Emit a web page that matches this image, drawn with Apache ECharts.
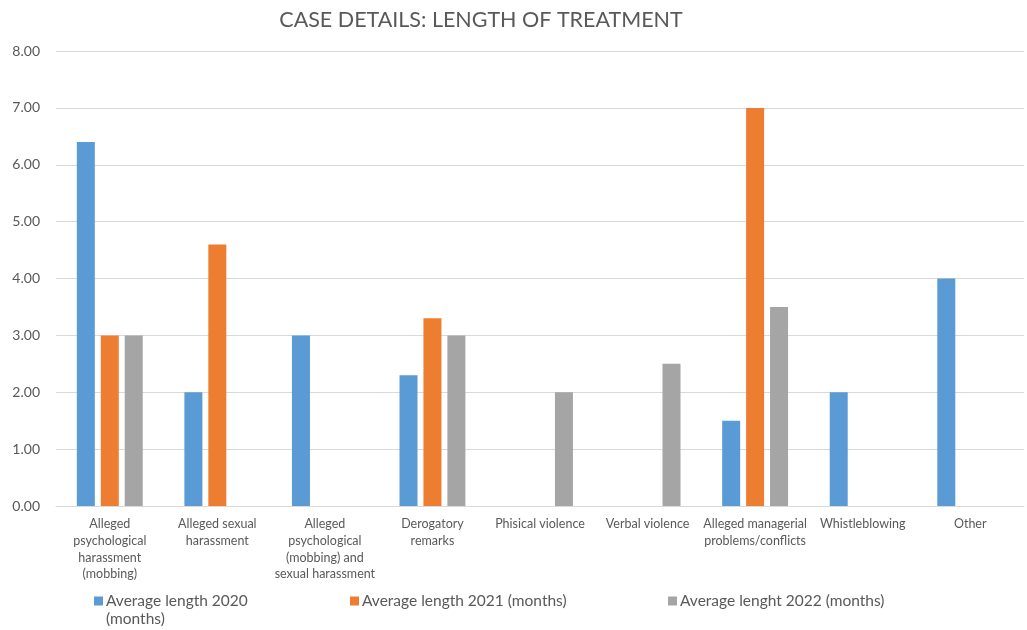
<!DOCTYPE html>
<html>
<head>
<meta charset="utf-8">
<script src="https://cdn.jsdelivr.net/npm/echarts@6/dist/echarts.min.js"></script>
<style>
  html, body { margin: 0; padding: 0; background: #fff; }
  #chart { width: 1027px; height: 630px; }
</style>
</head>
<body>
<div id="chart"></div>
<script>
// categories and tick labels (line breaks as in the original)
var categories = [
  'Alleged psychological harassment (mobbing)',
  'Alleged sexual harassment',
  'Alleged psychological (mobbing) and sexual harassment',
  'Derogatory remarks',
  'Phisical violence',
  'Verbal violence',
  'Alleged managerial problems/conflicts',
  'Whistleblowing',
  'Other'
];
var tickLabels = [
  'Alleged\npsychological\nharassment\n(mobbing)',
  'Alleged sexual\nharassment',
  'Alleged\npsychological\n(mobbing) and\nsexual harassment',
  'Derogatory\nremarks',
  'Phisical violence',
  'Verbal violence',
  'Alleged managerial\nproblems/conflicts',
  'Whistleblowing',
  'Other'
];

// series values (months)
var avg2020 = [6.4, 2, 3, 2.3, 0, 0, 1.5, 2, 4];
var avg2021 = [3, 4.6, 0, 3.3, 0, 0, 7, 0, 0];
var avg2022 = [3, 0, 0, 3, 2, 2.5, 3.5, 0, 0];

var seriesNames = [
  'Average length 2020 (months)',
  'Average length 2021 (months)',
  'Average lenght 2022 (months)'
];
var colors = ['#5B9BD5', '#ED7D31', '#A5A5A5'];

var FONT = 'Lato';
var TXT = '#595959';

var chart = echarts.init(document.getElementById('chart'));

function legendAt(name, left, label) {
  return {
    data: [name],
    left: left,
    top: 593,
    padding: 0,
    icon: 'rect',
    itemWidth: 9,
    itemHeight: 9,
    itemGap: 0,
    selectedMode: false,
    formatter: function () { return label; },
    textStyle: { fontFamily: FONT, fontSize: 15.5, color: TXT, padding: [0, 0, 0, -2] }
  };
}

function bars(i, data) {
  return {
    name: seriesNames[i],
    type: 'bar',
    data: data,
    barWidth: 18,
    barGap: '33%',
    itemStyle: { color: colors[i] },
    silent: true
  };
}

var option = {
  animation: false,
  backgroundColor: '#fff',
  textStyle: { fontFamily: FONT },
  title: {
    text: 'CASE DETAILS: LENGTH OF TREATMENT',
    left: 476,
    textAlign: 'center',
    top: 4,
    textStyle: { fontFamily: FONT, fontSize: 21.5, fontWeight: 'normal', color: TXT }
  },
  legend: [
    legendAt(seriesNames[0], 94, 'Average length 2020'),
    legendAt(seriesNames[1], 350, seriesNames[1]),
    legendAt(seriesNames[2], 668, seriesNames[2])
  ],
  graphic: [{
    type: 'text',
    left: 106,
    top: 611,
    style: { text: '(months)', font: '15.5px ' + FONT, fill: TXT }
  }],
  grid: { left: 56, right: 3, top: 51, bottom: 124 },
  xAxis: {
    type: 'category',
    data: categories,
    axisLine: { lineStyle: { color: '#D9D9D9' } },
    axisTick: { show: false },
    axisLabel: {
      interval: 0,
      margin: 10,
      color: TXT,
      fontFamily: FONT,
      fontSize: 12.5,
      lineHeight: 16.7,
      formatter: function (v, idx) { return tickLabels[idx]; }
    }
  },
  yAxis: {
    type: 'value',
    min: 0,
    max: 8,
    interval: 1,
    axisLine: { show: false },
    axisTick: { show: false },
    splitLine: { lineStyle: { color: '#D9D9D9' } },
    axisLabel: {
      margin: 16,
      color: TXT,
      fontFamily: FONT,
      fontSize: 14,
      formatter: function (v) { return v.toFixed(2); }
    }
  },
  series: [bars(0, avg2020), bars(1, avg2021), bars(2, avg2022)]
};

chart.setOption(option);
</script>
</body>
</html>
